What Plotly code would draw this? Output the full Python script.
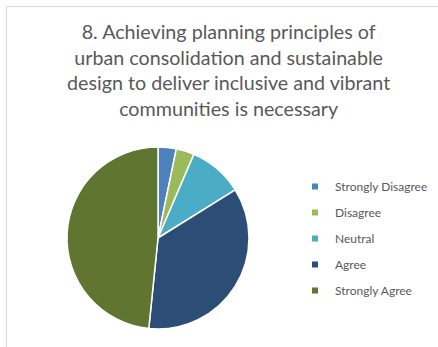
import plotly.graph_objects as go

labels = ["Strongly Disagree", "Disagree", "Neutral", "Agree", "Strongly Agree"]
values = [1, 1, 3, 11, 15]
colors = ["#4F81BD", "#9BBB59", "#4BACC6", "#2C4D75", "#5F7530"]
title_lines = ["8. Achieving planning principles of",
               "urban consolidation and sustainable",
               "design to deliver inclusive and vibrant",
               "communities is necessary"]

W, H = 438, 347
FONT = "Lato"

fig = go.Figure()
fig.add_trace(go.Pie(
    labels=labels, values=values, sort=False, direction="clockwise", rotation=0,
    marker=dict(colors=colors, line=dict(color="white", width=1.5)),
    textinfo="none", hoverinfo="label+value", showlegend=False,
    domain=dict(x=[67 / W, 249 / W], y=[(H - 329) / H, (H - 147) / H]),
))
for i, (lab, col) in enumerate(zip(labels, colors)):
    fig.add_trace(go.Scatter(
        x=[None], y=[None], mode="markers", name=lab, legendgroup=f"g{i}",
        marker=dict(symbol="square", size=6, color=col), showlegend=True,
    ))

border = dict(color="#D9D9D9", width=1)
fig.update_layout(
    width=W, height=H,
    margin=dict(l=0, r=0, t=0, b=0),
    paper_bgcolor="white", plot_bgcolor="white",
    xaxis=dict(visible=False), yaxis=dict(visible=False),
    font=dict(family=FONT, color="#595959"),
    annotations=[dict(
        text="<br>".join(title_lines), x=228 / W, y=(H - 18) / H,
        xref="paper", yref="paper", xanchor="center", yanchor="top",
        showarrow=False, align="center",
        font=dict(size=19.7, family=FONT, color="#595959"),
    )],
    legend=dict(
        x=295 / W, y=(H - 172) / H, xanchor="left", yanchor="top",
        font=dict(size=12, family=FONT, color="#595959"),
        tracegroupgap=7, bgcolor="rgba(0,0,0,0)",
    ),
    shapes=[
        dict(type="line", xref="paper", yref="paper",
             x0=6.5 / W, x1=1.0, y0=(H - 6.5) / H, y1=(H - 6.5) / H,
             line=border, layer="below"),
        dict(type="line", xref="paper", yref="paper",
             x0=6.5 / W, x1=6.5 / W, y0=0, y1=(H - 6.5) / H,
             line=border, layer="below"),
    ],
)

fig.write_html("out.html", config={"displayModeBar": False},
               post_script="document.body.style.margin='0';")
